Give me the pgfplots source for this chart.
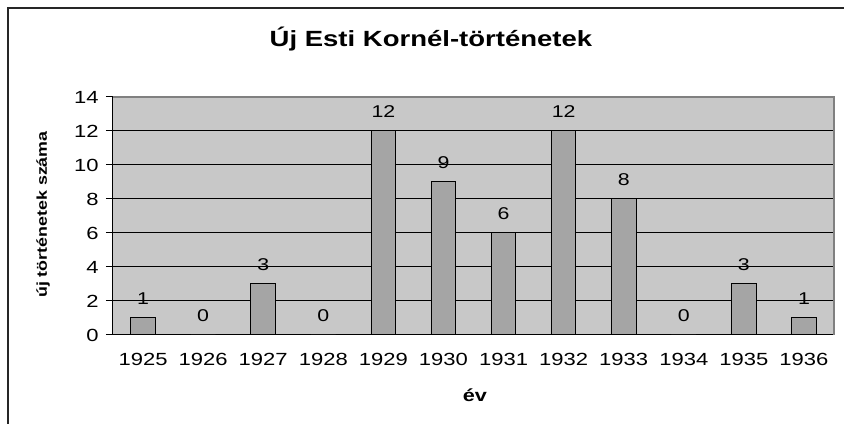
\documentclass[border=0pt]{standalone}
\usepackage{fontspec}
\setmainfont{Liberation Sans}[FakeStretch=1.25]
\usepackage{pgfplots}
\pgfplotsset{compat=1.18}
\definecolor{plotbg}{RGB}{200,200,200}
\definecolor{barfill}{RGB}{165,165,165}
\definecolor{bordergray}{RGB}{128,128,128}
\begin{document}
\begin{tikzpicture}
\useasboundingbox (0,0) rectangle (633pt,318pt);
\draw[line width=1.5pt, black!85] (6pt,-1pt) -- (6pt,312pt) -- (634pt,312pt);
\begin{axis}[
  at={(84.75pt,66.75pt)}, anchor=south west,
  scale only axis, width=540.75pt, height=178.5pt,
  xmin=-0.5, xmax=11.5, ymin=0, ymax=14,
  clip=false,
  ybar, bar width=0.41,
  axis lines*=left,
  axis line style={black, line width=0.75pt, -},
  axis background/.style={fill=plotbg},
  /pgf/number format/assume math mode=true,
  xtick={0,...,11},
  xticklabels={1925,1926,1927,1928,1929,1930,1931,1932,1933,1934,1935,1936},
  xtick style={draw=none},
  minor xtick={-0.5,0.5,...,11.5},
  ytick={0,2,...,14},
  ymajorgrids,
  grid style={black, line width=0.75pt},
  tick align=outside,
  major tick length=5.25pt,
  minor tick length=4.5pt,
  tick style={black, line width=0.75pt},
  ticklabel style={font=\fontsize{13.2}{15}\selectfont},
  xticklabel style={yshift=-5pt},
  yticklabel style={xshift=-2pt},
  title={Új Esti Kornél-történetek},
  title style={at={(0.441,1.211)}, anchor=base, yshift=-6pt, font=\bfseries\fontsize{16.5}{19}\selectfont},
  xlabel={év},
  xlabel style={at={(0.502,-0.2815)}, anchor=base, font=\bfseries\fontsize{13}{15}\selectfont},
  ylabel={új történetek száma},
  ylabel style={at={(-0.097,0.506)}, anchor=center, font=\bfseries\fontsize{10.7}{12}\selectfont},
  nodes near coords,
  every node near coord/.style={anchor=south, inner sep=0pt, yshift=9.75pt, font=\fontsize{12.8}{14}\selectfont},
]
\addplot[fill=barfill, draw=black, line width=0.75pt] coordinates {
  (0,1) (1,0) (2,3) (3,0) (4,12) (5,9) (6,6) (7,12) (8,8) (9,0) (10,3) (11,1)
};
\draw[bordergray, line width=1pt] (rel axis cs:0,1) -- (rel axis cs:1,1) -- (rel axis cs:1,0);
\end{axis}
\end{tikzpicture}
\end{document}
